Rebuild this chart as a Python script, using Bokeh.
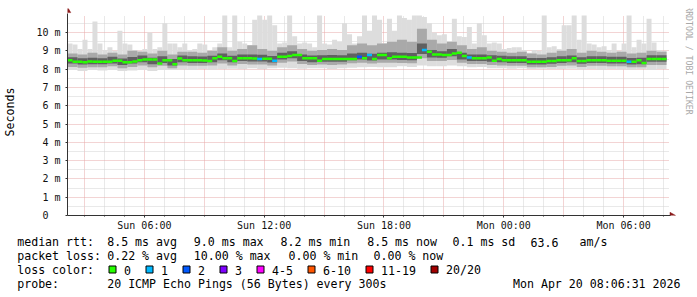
import math
from bokeh.plotting import figure
from bokeh.layouts import column, row
from bokeh.models import FixedTicker
from bokeh.core.properties import value
from bokeh.embed import file_html
from bokeh.resources import INLINE

# ---------------- data (hours after Sun 00:00, values in milliseconds) -------------
T_START = 2.15          # first sample (Sun ~02:09)
STEP = 0.25             # 15 min per median / max sample
SMOKE_STEP = 0.5        # 30 min per smoke-band sample
Y_TOP = 10.93           # top of the graph area (ms)

median_ms = [
    8.49, 8.40, 8.40, 8.38, 8.42, 8.40, 8.40, 8.40, 8.40, 8.46,
    8.46, 8.37, 8.37, 8.42, 8.49, 8.53, 8.53, 8.53, 8.30, 8.49,
    8.49, 8.27, 8.58, 8.49, 8.49, 8.49, 8.49, 8.47, 8.44, 8.60,
    8.68, 8.59, 8.59, 8.44, 8.59, 8.59, 8.59, 8.58, 8.55, 8.57,
    8.57, 8.46, 8.68, 8.68, 8.72, 8.77, 8.77, 8.59, 8.59, 8.59,
    8.46, 8.55, 8.55, 8.55, 8.55, 8.55, 8.55, 8.55, 8.68, 8.59,
    8.77, 8.55, 8.77, 8.77, 8.59, 8.68, 8.68, 8.68, 8.64, 8.64,
    8.64, 9.04, 8.95, 8.80, 8.80, 8.77, 8.77, 8.85, 8.90, 8.72,
    8.64, 8.59, 8.59, 8.59, 8.64, 8.46, 8.55, 8.49, 8.49, 8.49,
    8.49, 8.49, 8.40, 8.40, 8.40, 8.40, 8.44, 8.44, 8.49, 8.49,
    8.49, 8.59, 8.44, 8.44, 8.49, 8.49, 8.49, 8.49, 8.46, 8.46,
    8.46, 8.46, 8.40, 8.40, 8.49, 8.33, 8.55, 8.55, 8.55, 8.55,
]

loss = [
    0, 0, 0, 0, 0, 0, 0, 0, 0, 0,
    0, 0, 0, 0, 0, 0, 0, 0, 0, 0,
    0, 0, 0, 0, 0, 0, 0, 0, 0, 0,
    0, 0, 0, 0, 0, 0, 0, 0, 1, 0,
    0, 1, 0, 0, 0, 0, 0, 0, 0, 0,
    0, 0, 0, 0, 0, 0, 0, 0, 2, 0,
    1, 0, 0, 0, 0, 0, 0, 0, 0, 0,
    0, 1, 0, 0, 0, 0, 0, 0, 0, 0,
    1, 0, 0, 0, 0, 0, 0, 0, 0, 0,
    0, 0, 0, 0, 0, 0, 0, 0, 0, 0,
    0, 0, 0, 0, 0, 0, 0, 0, 0, 0,
    0, 0, 1, 0, 0, 0, 0, 0, 0, 0,
]

ping_max = [
    9.40, 9.35, 9.10, 9.60, 9.10, 10.60, 9.40, 9.05, 9.20, 9.00,
    10.10, 9.40, 9.35, 9.05, 9.00, 9.10, 10.00, 9.10, 9.20, 10.50,
    9.40, 9.40, 9.20, 9.40, 9.05, 9.10, 9.40, 9.35, 9.00, 9.20,
    9.40, 10.93, 9.20, 10.93, 9.50, 9.40, 9.25, 10.70, 10.93, 10.70,
    10.93, 10.40, 9.40, 9.45, 10.93, 9.80, 9.40, 9.45, 9.40, 9.20,
    10.93, 9.40, 9.35, 9.60, 9.50, 10.50, 9.90, 9.40, 9.80, 10.93,
    10.10, 10.93, 10.70, 9.40, 10.75, 10.10, 10.93, 10.80, 10.70, 10.93,
    10.93, 10.85, 10.50, 10.00, 9.85, 9.90, 9.40, 10.75, 9.80, 9.75,
    10.30, 9.40, 10.50, 9.85, 9.40, 9.45, 9.40, 9.10, 9.15, 9.20,
    9.20, 9.05, 8.90, 9.05, 9.00, 10.93, 9.20, 9.25, 9.10, 10.40,
    10.40, 10.93, 9.60, 10.93, 9.40, 9.35, 9.20, 9.25, 9.05, 9.40,
    9.00, 9.40, 10.93, 9.20, 9.60, 9.40, 10.75, 9.45, 9.05, 9.00,
]

ping_min = [
    7.95, 7.90, 7.95, 7.92, 7.95, 7.90, 7.93, 7.95, 7.90, 7.95,
    7.95, 7.98, 7.95, 8.00, 7.97, 8.00, 8.02, 8.00, 8.05, 8.00,
    8.05, 8.08, 8.05, 8.02, 8.05, 8.05, 8.00, 8.05, 8.08, 8.10,
    8.12, 8.10, 8.10, 8.15, 8.12, 8.20, 8.15, 8.15, 8.20, 8.15,
    8.10, 8.12, 8.05, 8.05, 8.02, 8.05, 8.00, 8.02, 8.00, 8.00,
    8.02, 7.98, 8.00, 7.97, 8.00, 7.98, 7.97, 8.00, 7.95, 8.00,
]

mid_lo = [
    8.12, 8.08, 8.10, 8.10, 8.15, 8.05, 8.12, 8.20, 8.10, 8.18,
    8.05, 8.20, 8.18, 8.18, 8.20, 8.30, 8.20, 8.28, 8.25, 8.25,
    8.20, 8.35, 8.42, 8.28, 8.22, 8.25, 8.22, 8.25, 8.32, 8.35,
    8.30, 8.35, 8.35, 8.33, 8.32, 8.60, 8.45, 8.45, 8.50, 8.35,
    8.28, 8.28, 8.22, 8.20, 8.18, 8.18, 8.10, 8.10, 8.12, 8.18,
    8.20, 8.12, 8.18, 8.18, 8.15, 8.15, 8.10, 8.10, 8.22, 8.22,
]

mid_hi = [
    8.85, 8.80, 8.90, 8.80, 8.90, 8.80, 9.00, 8.95, 8.85, 9.00,
    8.80, 8.95, 8.95, 8.90, 9.00, 9.20, 9.00, 9.10, 9.30, 9.10,
    9.00, 9.20, 9.30, 9.10, 9.00, 9.05, 9.10, 9.05, 9.30, 9.40,
    9.30, 9.40, 9.50, 9.60, 9.50, 10.20, 9.60, 9.40, 9.50, 9.30,
    9.10, 9.20, 9.00, 8.95, 8.90, 8.95, 8.85, 8.80, 8.90, 9.00,
    9.10, 8.90, 9.00, 8.95, 8.90, 8.95, 8.85, 8.90, 9.00, 8.95,
]

inner_lo = [
    8.30, 8.25, 8.27, 8.26, 8.30, 8.22, 8.30, 8.38, 8.26, 8.34,
    8.20, 8.38, 8.34, 8.33, 8.37, 8.48, 8.37, 8.44, 8.42, 8.41,
    8.36, 8.53, 8.60, 8.44, 8.38, 8.40, 8.40, 8.40, 8.49, 8.52,
    8.47, 8.52, 8.53, 8.50, 8.49, 8.82, 8.64, 8.62, 8.70, 8.52,
    8.44, 8.44, 8.40, 8.37, 8.34, 8.34, 8.25, 8.25, 8.29, 8.34,
    8.38, 8.29, 8.34, 8.34, 8.31, 8.31, 8.25, 8.26, 8.40, 8.40,
]

inner_hi = [
    8.65, 8.60, 8.62, 8.60, 8.68, 8.58, 8.66, 8.74, 8.62, 8.70,
    8.55, 8.74, 8.70, 8.69, 8.73, 8.86, 8.73, 8.80, 8.80, 8.78,
    8.72, 8.90, 8.98, 8.80, 8.74, 8.76, 8.77, 8.76, 8.86, 8.90,
    8.84, 8.90, 8.92, 8.90, 8.88, 9.40, 9.05, 8.98, 9.10, 8.90,
    8.80, 8.80, 8.76, 8.73, 8.70, 8.70, 8.61, 8.61, 8.65, 8.70,
    8.75, 8.65, 8.70, 8.70, 8.67, 8.67, 8.61, 8.62, 8.76, 8.76,
]

x_tick_hours = [6, 12, 18, 24, 30]
x_tick_labels = ["Sun 06:00", "Sun 12:00", "Sun 18:00", "Mon 00:00", "Mon 06:00"]
y_ticks = [0, 1, 2, 3, 4, 5, 6, 7, 8, 9, 10]
y_tick_labels = ["0\u00a0\u00a0", "1 m", "2 m", "3 m", "4 m", "5 m", "6 m", "7 m", "8 m", "9 m", "10 m"]

loss_names = ["0", "1", "2", "3", "4-5", "6-10", "11-19", "20/20"]
loss_colors = ["#26ff00", "#00b8ff", "#0059ff", "#7e00ff", "#ff00ff", "#ff5500", "#ff0000", "#a10000"]

legend_rtt = ["median rtt:", "8.5 ms avg", "9.0 ms max", "8.2 ms min", "8.5 ms now",
              "0.1 ms sd", "63.6", "am/s"]
legend_loss = ["packet loss:", "0.22 % avg", "10.00 % max", "0.00 % min", "0.00 % now"]
probe_label = "probe:"
probe_text = "20 ICMP Echo Pings (56 Bytes) every 300s"
stamp_text = "Mon Apr 20 08:06:31 2026"
color_label = "loss color:"
watermark = "RRDTOOL / TOBI OETIKER"

# ---------------- layout constants (pixels) -------------
MONO = "DejaVu Sans Mono"
AXIS = "#333333"
ARROW = "#8b1a1a"
rtt_x = [16.7, 106.7, 193.3, 280.0, 366.7, 452.0, 530.0, 579.0]
loss_x = [16.7, 106.7, 193.3, 288.0, 373.0]
BASE = [241.5, 255.5, 269.5, 283.5]
BOX_TOP, BOX_BOTTOM = 265.5, 272.5
PX_PER_H = 20.0
PX_PER_MS = 200.0 / Y_TOP


def loss_bin(n):
    if n <= 3:
        return n
    if n <= 5:
        return 4
    if n <= 10:
        return 5
    if n <= 19:
        return 6
    return 7


# ---------------- main graph -------------
# frame: x 66..676 px, y 8..215 px ; graph area proper: x 66..666, y 15..215
X_END = T_START + 610 / PX_PER_H
Y_END = 207 / PX_PER_MS
GRAPH_END = T_START + 600 / PX_PER_H

p = figure(width=676, height=235, x_range=(T_START, X_END), y_range=(0, Y_END),
           output_backend="svg", toolbar_location=None,
           min_border_left=66, min_border_right=0, min_border_top=8, min_border_bottom=20,
           background_fill_color="white", border_fill_color="white")
p.outline_line_color = None

t = [T_START + STEP * i for i in range(len(median_ms))]
t_end = [x + STEP for x in t]
ts = [T_START + SMOKE_STEP * j for j in range(len(ping_min))]
ts_end = [x + SMOKE_STEP for x in ts]

p.quad(left=ts, right=ts_end, bottom=ping_min, top=mid_hi, fill_color="#dddddd", line_color=None)
p.quad(left=t, right=t_end, bottom=median_ms, top=ping_max, fill_color="#dddddd", line_color=None)
p.quad(left=ts, right=ts_end, bottom=mid_lo, top=mid_hi, fill_color="#a9a9a9", line_color=None)
p.quad(left=ts, right=ts_end, bottom=inner_lo, top=inner_hi, fill_color="#606060", line_color=None)

seg_colors = [loss_colors[loss_bin(n)] for n in loss]
p.segment(x0=t, x1=t_end, y0=median_ms, y1=median_ms, line_color=seg_colors, line_width=2.5)

x_major_grid = [h for h in range(3, 33) if h % 3 == 0]
x_minor_grid = [h for h in range(3, 33) if h % 3 != 0]
p.xgrid.ticker = FixedTicker(ticks=x_major_grid, minor_ticks=x_minor_grid)
p.ygrid.ticker = FixedTicker(ticks=y_ticks, minor_ticks=[v + 0.5 for v in y_ticks])
for g in (p.xgrid, p.ygrid):
    g.grid_line_color = "#e6a8a8"
    g.grid_line_dash = "1 1"
    g.grid_line_width = 1
    g.minor_grid_line_color = "#d2d2d2"
    g.minor_grid_line_dash = "1 1"
xg = p.xgrid[0]
yg = p.ygrid[0]
if "cross_bounds" in xg.properties():
    xg.cross_bounds = (0, Y_TOP)
    yg.cross_bounds = (T_START, GRAPH_END + 0.1)

p.xaxis.ticker = FixedTicker(ticks=x_tick_hours, minor_ticks=list(range(3, 33)))
p.xaxis.major_label_overrides = dict(zip(x_tick_hours, x_tick_labels))
p.yaxis.ticker = FixedTicker(ticks=y_ticks, minor_ticks=[])
p.yaxis.major_label_overrides = dict(zip(y_ticks, y_tick_labels))
for ax in (p.xaxis, p.yaxis):
    ax.axis_line_color = AXIS
    ax.major_tick_line_color = AXIS
    ax.minor_tick_line_color = AXIS
    ax.major_tick_in = 0
    ax.major_tick_out = 2
    ax.minor_tick_in = 0
    ax.minor_tick_out = 1
    ax.major_label_text_font = MONO
    ax.major_label_text_font_size = "10px"
    ax.major_label_text_color = "#111111"
p.xaxis.bounds = (T_START, GRAPH_END + 0.2)
p.yaxis.bounds = (0, Y_TOP + 0.12)
p.xaxis.major_label_standoff = 2
p.yaxis.major_label_standoff = 5
p.yaxis.axis_label = "Seconds"
p.yaxis.axis_label_text_font = MONO
p.yaxis.axis_label_text_font_size = "11.6px"
p.yaxis.axis_label_text_font_style = "normal"
p.yaxis.axis_label_text_color = "#000000"
p.yaxis.axis_label_standoff = 16

# axis arrow heads
p.scatter(x=[T_START], y=[Y_TOP + 0.26], marker="triangle", size=6.5,
          fill_color=ARROW, line_color=ARROW, line_width=0.5)
p.scatter(x=[GRAPH_END + 0.27], y=[0], marker="triangle", angle=-math.pi / 2, size=6.5,
          fill_color=ARROW, line_color=ARROW, line_width=0.5)

# ---------------- watermark strip (right of the graph) -------------
wm = figure(width=21, height=235, x_range=(676, 697), y_range=(235, 0),
            output_backend="svg", toolbar_location=None, min_border=0,
            x_axis_location=None, y_axis_location=None,
            background_fill_color="white", border_fill_color="white")
wm.outline_line_color = None
wm.grid.visible = False
wm.text(x=[688], y=[59], text=[watermark], angle=-math.pi / 2,
        text_align="center", text_baseline="middle",
        text_font=value(MONO), text_font_size=value("8.2px"), text_color="#a8a8a8")

# ---------------- legend strip (below the graph) -------------
lg = figure(width=697, height=62, x_range=(0, 697), y_range=(297, 235),
            output_backend="svg", toolbar_location=None, min_border=0,
            x_axis_location=None, y_axis_location=None,
            background_fill_color="white", border_fill_color="white")
lg.outline_line_color = None
lg.grid.visible = False

txt, xs, ys = [], [], []
for s, x in zip(legend_rtt, rtt_x):
    txt.append(s); xs.append(x); ys.append(BASE[0])
for s, x in zip(legend_loss, loss_x):
    txt.append(s); xs.append(x); ys.append(BASE[1])
txt.append(color_label); xs.append(16.7); ys.append(BASE[2])
box_l, box_r, box_c = [], [], []
bx = 108.5
for name, col in zip(loss_names, loss_colors):
    box_l.append(bx); box_r.append(bx + 7); box_c.append(col)
    txt.append(name); xs.append(bx + 15); ys.append(BASE[2])
    bx += 15 + 7 * len(name) + 15
txt.append(probe_label); xs.append(16.7); ys.append(BASE[3])
txt.append(probe_text); xs.append(106.7); ys.append(BASE[3])

lg.text(x=xs, y=ys, text=txt, text_align="left", text_baseline="alphabetic",
        text_font=value(MONO), text_font_size=value("11.6px"), text_color="#000000")
lg.text(x=[680], y=[BASE[3]], text=[stamp_text], text_align="right", text_baseline="alphabetic",
        text_font=value(MONO), text_font_size=value("11.6px"), text_color="#000000")
lg.quad(left=box_l, right=box_r, top=[BOX_TOP] * len(box_l), bottom=[BOX_BOTTOM] * len(box_l),
        fill_color=box_c, line_color="#000000", line_width=1)

layout = column(row(p, wm), lg)
open("out.html", "w").write(file_html(layout, INLINE))
